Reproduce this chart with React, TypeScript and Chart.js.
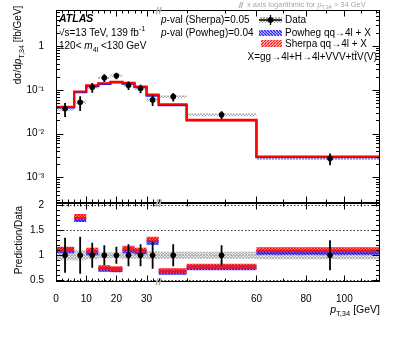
import React, { useEffect, useRef } from "react";
import { Chart, registerables, LinearScale } from "chart.js";

// ---------------- data ----------------
const binEdges = [0, 6, 10, 14, 18, 22, 26, 30, 34, 40, 60, 123];
const binCenters = [3, 8, 12, 16, 20, 24, 28, 32, 37, 49, 92];
const dataXsec = [0.037, 0.052, 0.115, 0.19, 0.21, 0.128, 0.108, 0.059, 0.07, 0.027, 0.0027];
const dataRelErr = [0.35, 0.37, 0.25, 0.2, 0.17, 0.22, 0.22, 0.27, 0.22, 0.2, 0.3];
const dataRelSyst = [0.1, 0.1, 0.08, 0.06, 0.06, 0.07, 0.07, 0.08, 0.07, 0.07, 0.08];
const sherpaXsec = [0.041, 0.092, 0.127, 0.142, 0.152, 0.144, 0.119, 0.078, 0.047, 0.0207, 0.003];
const powhegXsec = [0.04, 0.089, 0.121, 0.137, 0.149, 0.139, 0.116, 0.074, 0.045, 0.02, 0.0029];
const sherpaRatio = [1.12, 1.77, 1.1, 0.75, 0.73, 1.14, 1.1, 1.32, 0.69, 0.78, 1.11];
const powhegRatio = [1.09, 1.71, 1.05, 0.72, 0.71, 1.09, 1.07, 1.26, 0.66, 0.75, 1.06];
const predRatioUnc = [0.05, 0.05, 0.05, 0.05, 0.05, 0.05, 0.05, 0.05, 0.05, 0.05, 0.05];
const dataRatio = [1, 1, 1, 1, 1, 1, 1, 1, 1, 1, 1];

const xMajorTicks = [0, 10, 20, 30, 60, 80, 100];
const xMajorLabels = ["0", "10", "20", "30", "60", "80", "100"];
const xMinorTicks = [2, 4, 6, 8, 12, 14, 16, 18, 22, 24, 26, 28, 32, 34, 40, 50, 70, 90, 110, 120];
const topYTicks = [1e-3, 1e-2, 1e-1, 1];
const topYLabels = ["10\u207B\u00B3", "10\u207B\u00B2", "10\u207B\u00B9", "1"];
const ratioYTicks = [0.5, 1, 1.5, 2];
const ratioYLabels = ["0.5", "1", "1.5", "2"];

const X_MIN = 0;
const X_MAX = 123;
const LIN_LIMIT = 34;

// ---------------- custom linear->log x scale ----------------
const LOG_K = 57;
const fwd = (v: number) => (v <= LIN_LIMIT ? v : LIN_LIMIT + LOG_K * Math.log(v / LIN_LIMIT));
const inv = (t: number) => (t <= LIN_LIMIT ? t : LIN_LIMIT * Math.exp((t - LIN_LIMIT) / LOG_K));

class LinLogScale extends (LinearScale as any) {
  static id = "linlog";
  determineDataLimits() {
    this.min = fwd(this.options.min);
    this.max = fwd(this.options.max);
  }
  buildTicks() {
    return xMajorTicks.map((v) => ({ value: v }));
  }
  getPixelForValue(v: number) {
    if (v === null || v === undefined) return NaN;
    return this.getPixelForDecimal((fwd(v) - this._startValue) / this._valueRange);
  }
  getValueForPixel(p: number) {
    return inv(this._startValue + this.getDecimalForPixel(p) * this._valueRange);
  }
}

Chart.register(...registerables, LinLogScale as any);

// ---------------- helpers ----------------
const FONT = '"Liberation Sans", Arial, Helvetica, sans-serif';
type Seg = { t: string; i?: boolean; b?: boolean; sub?: boolean; sup?: boolean; over?: boolean };

function segFont(s: Seg, size: number) {
  const sz = s.sub || s.sup ? size * 0.72 : size;
  return `${s.i ? "italic " : ""}${s.b ? "bold " : ""}${sz}px ${FONT}`;
}
function richWidth(ctx: CanvasRenderingContext2D, segs: Seg[], size: number) {
  let w = 0;
  for (const s of segs) {
    ctx.font = segFont(s, size);
    w += ctx.measureText(s.t).width;
  }
  return w;
}
function drawRich(
  ctx: CanvasRenderingContext2D,
  segs: Seg[],
  x: number,
  y: number,
  size: number,
  align: "left" | "right" | "center" = "left",
  color = "#000"
) {
  const w = richWidth(ctx, segs, size);
  let cx = align === "right" ? x - w : align === "center" ? x - w / 2 : x;
  ctx.fillStyle = color;
  ctx.textBaseline = "middle";
  ctx.textAlign = "left";
  for (const s of segs) {
    ctx.font = segFont(s, size);
    const dy = s.sub ? size * 0.38 : s.sup ? -size * 0.38 : 0;
    ctx.fillText(s.t, cx, y + dy);
    const sw = ctx.measureText(s.t).width;
    if (s.over) ctx.fillRect(cx + 0.5, y - size * 0.62, sw - 1, 0.8);
    cx += sw;
  }
}

function makeHatch(ctx: CanvasRenderingContext2D, color: string, dir: number, period: number, lw: number, bg?: string) {
  const c = document.createElement("canvas");
  c.width = period;
  c.height = period;
  const g = c.getContext("2d")!;
  if (bg) {
    g.fillStyle = bg;
    g.fillRect(0, 0, period, period);
  }
  g.strokeStyle = color;
  g.lineWidth = lw;
  g.beginPath();
  const p = period;
  if (dir >= 0) {
    for (let k = -1; k <= 1; k++) {
      g.moveTo(k * p, p);
      g.lineTo(k * p + p, 0);
    }
  }
  if (dir <= 0) {
    for (let k = -1; k <= 1; k++) {
      g.moveTo(k * p, 0);
      g.lineTo(k * p + p, p);
    }
  }
  g.stroke();
  return ctx.createPattern(c, "repeat")!;
}

const stepPoints = (vals: number[]) => [
  ...binEdges.slice(0, -1).map((x, i) => ({ x, y: vals[i] })),
  { x: binEdges[binEdges.length - 1], y: vals[vals.length - 1] },
];

function drawFrame(chart: any, yMajor: number[], yMinor: number[], tickTop: boolean) {
  const { ctx, chartArea: a, scales } = chart;
  const xs = scales.x;
  const ys = scales.y;
  ctx.save();
  ctx.strokeStyle = "#000";
  ctx.lineWidth = 1;
  const L = Math.round(a.left) + 0.5;
  const R = Math.round(a.right) - 0.5;
  const T = Math.round(a.top) + 0.5;
  const B = Math.round(a.bottom) - 0.5;
  ctx.strokeRect(L, T, R - L, B - T);
  ctx.beginPath();
  const tx = (v: number, len: number) => {
    const px = Math.round(xs.getPixelForValue(v)) + 0.5;
    ctx.moveTo(px, B);
    ctx.lineTo(px, B - len);
    if (tickTop) {
      ctx.moveTo(px, T);
      ctx.lineTo(px, T + len);
    }
  };
  const ty = (v: number, len: number) => {
    const py = Math.round(ys.getPixelForValue(v)) + 0.5;
    ctx.moveTo(L, py);
    ctx.lineTo(L + len, py);
    ctx.moveTo(R, py);
    ctx.lineTo(R - len, py);
  };
  xMajorTicks.forEach((v) => tx(v, 6));
  xMinorTicks.forEach((v) => tx(v, 3));
  yMajor.forEach((v) => ty(v, 7));
  yMinor.forEach((v) => ty(v, 3.5));
  ctx.stroke();
  // break markers at the lin/log switch
  const bx = xs.getPixelForValue(LIN_LIMIT);
  ctx.strokeStyle = "#b0b0b0";
  ctx.lineWidth = 1.4;
  ctx.beginPath();
  for (const yy of tickTop ? [T, B] : [B]) {
    ctx.moveTo(bx - 2.5, yy + 3.5);
    ctx.lineTo(bx - 0.5, yy - 3.5);
    ctx.moveTo(bx + 0.5, yy + 3.5);
    ctx.lineTo(bx + 2.5, yy - 3.5);
  }
  ctx.stroke();
  ctx.restore();
}

function drawErrorBars(chart: any, vals: number[]) {
  const { ctx, scales } = chart;
  ctx.save();
  ctx.strokeStyle = "#000";
  ctx.lineWidth = 1.8;
  ctx.beginPath();
  binCenters.forEach((x, i) => {
    const px = scales.x.getPixelForValue(x);
    ctx.moveTo(px, scales.y.getPixelForValue(vals[i] * (1 + dataRelErr[i])));
    ctx.lineTo(px, scales.y.getPixelForValue(vals[i] * (1 - dataRelErr[i])));
  });
  ctx.stroke();
  ctx.restore();
}

const TXT = 10;

export default function App() {
  const topRef = useRef<HTMLCanvasElement>(null);
  const botRef = useRef<HTMLCanvasElement>(null);

  useEffect(() => {
    const topCtx = topRef.current!.getContext("2d")!;
    const botCtx = botRef.current!.getContext("2d")!;
    const redT = makeHatch(topCtx, "#ff1a1a", 1, 3, 1.5);
    const blueT = makeHatch(topCtx, "#2020ff", -1, 3, 1.5);
    const grayT = makeHatch(topCtx, "#9a9a9a", 0, 3, 0.8);
    const redB = makeHatch(botCtx, "#ff0000", 1, 3, 1.7, "rgba(255,150,150,0.5)");
    const blueB = makeHatch(botCtx, "#1010ff", -1, 3, 1.7, "rgba(150,150,255,0.5)");
    const grayB = makeHatch(botCtx, "#a8a8a8", 0, 3, 0.8, "rgba(215,215,215,0.6)");

    const topMinor: number[] = [];
    for (let e = -4; e <= 0; e++) for (let m = 2; m <= 9; m++) {
      const v = m * Math.pow(10, e);
      if (v > 2.6e-4 && v < 6.7) topMinor.push(v);
    }
    const ratioMinor: number[] = [];
    for (let v = 0.5; v <= 2.0001; v += 0.1) ratioMinor.push(Math.round(v * 10) / 10);

    const band = (center: number[], rel: number[], sign: number, mult: boolean) =>
      center.map((v, i) => (mult ? v * (1 + sign * rel[i]) : v + sign * rel[i]));

    const commonX = {
      type: "linlog",
      min: X_MIN,
      max: X_MAX,
    };

    const stepDs = (label: string, vals: number[], extra: any) => ({
      label,
      data: stepPoints(vals),
      stepped: "before",
      borderColor: "rgba(0,0,0,0)",
      borderWidth: 0,
      pointRadius: 0,
      fill: false,
      ...extra,
    });

    const topChart = new Chart(topRef.current!, {
      type: "line",
      data: {
        datasets: [
          {
            label: "Data",
            data: binCenters.map((x, i) => ({ x, y: dataXsec[i] })),
            showLine: false,
            pointRadius: 2.8,
            pointBackgroundColor: "#000",
            pointBorderWidth: 0,
            order: 0,
          },
          stepDs("Sherpa", sherpaXsec, { borderColor: "#ff0000", borderWidth: 2.2, order: 1 }),
          stepDs("Powheg", powhegXsec, { borderColor: "#1a1aff", borderWidth: 2.2, order: 2 }),
          stepDs("dataSystHi", band(dataXsec, dataRelSyst, 1, true), { order: 3 }),
          stepDs("dataSystLo", band(dataXsec, dataRelSyst, -1, true), { order: 3, fill: "-1", backgroundColor: grayT }),
        ],
      } as any,
      options: {
        animation: false,
        responsive: false,
        events: [],
        layout: { padding: { left: 0, right: 19, top: 8, bottom: 134 } },
        plugins: { legend: { display: false }, tooltip: { enabled: false } },
        scales: {
          x: { ...commonX, display: false },
          y: {
            type: "logarithmic",
            min: 2.6e-4,
            max: 6.7,
            afterBuildTicks: (s: any) => {
              s.ticks = topYTicks.map((v) => ({ value: v }));
            },
            afterFit: (s: any) => {
              s.width = 56;
            },
            grid: { display: false },
            border: { display: false },
            ticks: {
              autoSkip: false,
              padding: 4,
              color: "#000",
              font: { family: FONT, size: TXT },
              callback: (v: any) => topYLabels[topYTicks.findIndex((t) => Math.abs(t - v) < t * 1e-6)] ?? "",
            },
          },
        } as any,
      },
      plugins: [
        {
          id: "topDecor",
          afterDatasetsDraw(chart: any) {
            drawErrorBars(chart, dataXsec);
          },
          afterDraw(chart: any) {
            drawFrame(chart, topYTicks, topMinor, true);
            const ctx = chart.ctx as CanvasRenderingContext2D;
            ctx.save();
            // left texts
            drawRich(ctx, [{ t: "ATLAS", b: true, i: true }], 59, 19, TXT + 0.5);
            drawRich(ctx, [{ t: "\u221As=13 TeV, 139 fb" }, { t: "-1", sup: true }], 59, 33, TXT);
            drawRich(ctx, [{ t: "120< " }, { t: "m", i: true }, { t: "4l", sub: true }, { t: " <130 GeV" }], 59, 46, TXT);
            // p-values
            drawRich(ctx, [{ t: "p", i: true }, { t: "-val (Sherpa)=0.05" }], 161, 20, TXT);
            drawRich(ctx, [{ t: "p", i: true }, { t: "-val (Powheg)=0.04" }], 161, 33, TXT);
            // legend symbols
            ctx.fillStyle = grayT;
            ctx.fillRect(259, 17, 23, 6);
            ctx.fillStyle = blueT;
            ctx.fillRect(259, 30, 23, 6);
            ctx.fillStyle = redT;
            ctx.fillRect(261, 40, 21, 7);
            ctx.strokeStyle = "#000";
            ctx.lineWidth = 1.3;
            ctx.beginPath();
            ctx.moveTo(259, 20);
            ctx.lineTo(282, 20);
            ctx.moveTo(270.5, 15);
            ctx.lineTo(270.5, 25);
            ctx.stroke();
            ctx.fillStyle = "#000";
            ctx.beginPath();
            ctx.arc(270.5, 20, 2.8, 0, Math.PI * 2);
            ctx.fill();
            drawRich(ctx, [{ t: "Data" }], 285, 20, TXT);
            drawRich(ctx, [{ t: "Powheg qq\u21924l + X" }], 285, 33, TXT);
            drawRich(ctx, [{ t: "Sherpa qq\u21924l + X" }], 285, 44, TXT);
            drawRich(ctx, [{ t: "X=gg\u21924l+H\u21924l+VVV+t" }, { t: "t", over: true }, { t: "V(V)" }], 377, 57, TXT, "right");
            // note on top
            ctx.strokeStyle = "#b8b8b8";
            ctx.lineWidth = 1.2;
            ctx.beginPath();
            ctx.moveTo(239, 8);
            ctx.lineTo(241, 2);
            ctx.moveTo(241, 8);
            ctx.lineTo(243, 2);
            ctx.stroke();
            drawRich(
              ctx,
              [{ t: "x axis logarithmic for " }, { t: "p", i: true }, { t: "T,34", sub: true }, { t: " > 34 GeV" }],
              247,
              4.5,
              7.5,
              "left",
              "#a8a8a8"
            );
            // y title
            ctx.translate(18, 45);
            ctx.rotate(-Math.PI / 2);
            drawRich(ctx, [{ t: "d\u03C3/d" }, { t: "p", i: true }, { t: "T,34", sub: true }, { t: " [fb/GeV]" }], 0, 0, TXT, "center");
            ctx.restore();
          },
        },
      ],
    } as any);

    const botChart = new Chart(botRef.current!, {
      type: "line",
      data: {
        datasets: [
          {
            label: "DataRatio",
            data: binCenters.map((x, i) => ({ x, y: dataRatio[i] })),
            showLine: false,
            pointRadius: 2.8,
            pointBackgroundColor: "#000",
            pointBorderWidth: 0,
            order: 0,
          },
          stepDs("sherpaHi", band(sherpaRatio, predRatioUnc, 1, false), { order: 1 }),
          stepDs("sherpaLo", band(sherpaRatio, predRatioUnc, -1, false), { order: 1, fill: "-1", backgroundColor: redB }),
          stepDs("powhegHi", band(powhegRatio, predRatioUnc, 1, false), { order: 2 }),
          stepDs("powhegLo", band(powhegRatio, predRatioUnc, -1, false), { order: 2, fill: "-1", backgroundColor: blueB }),
          stepDs("systHi", band(dataRatio, dataRelSyst, 1, false), { order: 3 }),
          stepDs("systLo", band(dataRatio, dataRelSyst, -1, false), { order: 3, fill: "-1", backgroundColor: grayB }),
        ],
      } as any,
      options: {
        animation: false,
        responsive: false,
        events: [],
        layout: { padding: { left: 0, right: 19, top: 203, bottom: 33 } },
        plugins: { legend: { display: false }, tooltip: { enabled: false } },
        scales: {
          x: {
            ...commonX,
            afterFit: (s: any) => {
              s.height = 22;
            },
            grid: { display: false },
            border: { display: false },
            ticks: {
              autoSkip: false,
              maxRotation: 0,
              padding: 3,
              color: "#000",
              font: { family: FONT, size: TXT },
              callback: (v: any) => xMajorLabels[xMajorTicks.indexOf(v)] ?? "",
            },
          },
          y: {
            type: "linear",
            min: 0.466,
            max: 2.04,
            afterBuildTicks: (s: any) => {
              s.ticks = ratioYTicks.map((v) => ({ value: v }));
            },
            afterFit: (s: any) => {
              s.width = 56;
            },
            grid: { display: false },
            border: { display: false },
            ticks: {
              autoSkip: false,
              padding: 4,
              color: "#000",
              font: { family: FONT, size: TXT },
              callback: (v: any) => ratioYLabels[ratioYTicks.indexOf(v)] ?? "",
            },
          },
        } as any,
      },
      plugins: [
        {
          id: "botDecor",
          beforeDatasetsDraw(chart: any) {
            const { ctx, chartArea: a, scales } = chart;
            ctx.save();
            ctx.lineWidth = 1;
            ctx.setLineDash([1.5, 2]);
            ratioYTicks.forEach((v) => {
              const py = Math.round(scales.y.getPixelForValue(v)) + 0.5;
              ctx.strokeStyle = v === 1 ? "#9a9a9a" : "#333";
              ctx.beginPath();
              ctx.moveTo(a.left, py);
              ctx.lineTo(a.right, py);
              ctx.stroke();
            });
            ctx.restore();
          },
          afterDatasetsDraw(chart: any) {
            drawErrorBars(chart, dataRatio);
          },
          afterDraw(chart: any) {
            drawFrame(chart, ratioYTicks, ratioMinor, true);
            const ctx = chart.ctx as CanvasRenderingContext2D;
            ctx.save();
            drawRich(ctx, [{ t: "p", i: true }, { t: "T,34", sub: true }, { t: " [GeV]" }], 380, 310, TXT + 0.5, "right");
            ctx.translate(19, 240);
            ctx.rotate(-Math.PI / 2);
            drawRich(ctx, [{ t: "Prediction/Data" }], 0, 0, TXT, "center");
            ctx.restore();
          },
        },
      ],
    } as any);

    return () => {
      topChart.destroy();
      botChart.destroy();
    };
  }, []);

  const cs: React.CSSProperties = { position: "absolute", left: 0, top: 0, width: 399, height: 337 };
  return (
    <div style={{ position: "fixed", left: 0, top: 0, width: 399, height: 337, background: "#fff" }}>
      <canvas ref={botRef} width={399} height={337} style={cs} />
      <canvas ref={topRef} width={399} height={337} style={cs} />
    </div>
  );
}
